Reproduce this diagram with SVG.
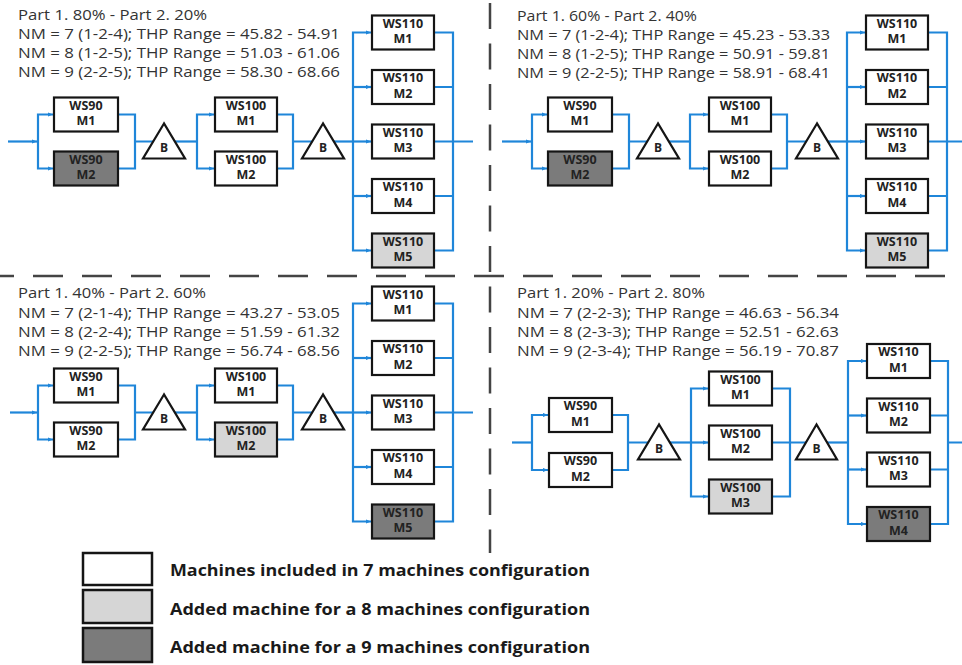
<svg xmlns="http://www.w3.org/2000/svg" width="962" height="665" viewBox="0 0 962 665">
<defs>
<style>
.wire{stroke:#1f86d9;stroke-width:2.2;fill:none}
.box{stroke:#151515;stroke-width:2.2}
.w{fill:#ffffff}.l{fill:#d6d6d6}.d{fill:#7b7b7b}
.lbl{font-family:"Open Sans","Liberation Sans",sans-serif;font-weight:bold;font-size:12.5px;text-anchor:middle;fill:#222;transform:translateY(1px)}
.tri{fill:#fff;stroke:#151515;stroke-width:2.2}
.b{font-family:"Open Sans","Liberation Sans",sans-serif;font-weight:bold;font-size:12px;text-anchor:middle;fill:#222}
.info{font-family:"Open Sans","Liberation Sans",sans-serif;font-size:14px;fill:#333}
.sep{stroke:#444;stroke-width:2.5;fill:none}
.leg{font-family:"Open Sans","Liberation Sans",sans-serif;font-weight:bold;font-size:16px;fill:#1a1a1a}
.lgb{stroke:#151515;stroke-width:2.5}
</style>
<marker id="ah" viewBox="0 0 6 6" refX="6" refY="3" markerWidth="5" markerHeight="5" markerUnits="userSpaceOnUse" orient="auto-start-reverse">
<path d="M0,0.5 L6,3 L0,5.5 z" fill="#1f86d9"/>
</marker>
</defs>

<g id="separators">
<line class="sep" x1="-16" y1="276" x2="962" y2="276" stroke-dasharray="30 19"/>
<line class="sep" x1="490" y1="3" x2="490" y2="553" stroke-dasharray="26 14.5"/>
</g>

<g id="texts">
<text class="info" x="18" y="19.5" textLength="189" lengthAdjust="spacingAndGlyphs">Part 1. 80% - Part 2. 20%</text>
<text class="info" x="18" y="38.5" textLength="322" lengthAdjust="spacingAndGlyphs">NM = 7 (1-2-4); THP Range = 45.82 - 54.91</text>
<text class="info" x="18" y="57.5" textLength="322" lengthAdjust="spacingAndGlyphs">NM = 8 (1-2-5); THP Range = 51.03 - 61.06</text>
<text class="info" x="18" y="76.5" textLength="322" lengthAdjust="spacingAndGlyphs">NM = 9 (2-2-5); THP Range = 58.30 - 68.66</text>

<text class="info" x="517" y="20.5" textLength="180" lengthAdjust="spacingAndGlyphs">Part 1. 60% - Part 2. 40%</text>
<text class="info" x="517" y="39.5" textLength="313" lengthAdjust="spacingAndGlyphs">NM = 7 (1-2-4); THP Range = 45.23 - 53.33</text>
<text class="info" x="517" y="59" textLength="313" lengthAdjust="spacingAndGlyphs">NM = 8 (1-2-5); THP Range = 50.91 - 59.81</text>
<text class="info" x="517" y="78" textLength="313" lengthAdjust="spacingAndGlyphs">NM = 9 (2-2-5); THP Range = 58.91 - 68.41</text>

<text class="info" x="18" y="298" textLength="188" lengthAdjust="spacingAndGlyphs">Part 1. 40% - Part 2. 60%</text>
<text class="info" x="18" y="317.5" textLength="322" lengthAdjust="spacingAndGlyphs">NM = 7 (2-1-4); THP Range = 43.27 - 53.05</text>
<text class="info" x="18" y="336.5" textLength="322" lengthAdjust="spacingAndGlyphs">NM = 8 (2-2-4); THP Range = 51.59 - 61.32</text>
<text class="info" x="18" y="355.5" textLength="322" lengthAdjust="spacingAndGlyphs">NM = 9 (2-2-5); THP Range = 56.74 - 68.56</text>

<text class="info" x="517" y="298" textLength="188" lengthAdjust="spacingAndGlyphs">Part 1. 20% - Part 2. 80%</text>
<text class="info" x="517" y="317.5" textLength="322" lengthAdjust="spacingAndGlyphs">NM = 7 (2-2-3); THP Range = 46.63 - 56.34</text>
<text class="info" x="517" y="336.5" textLength="322" lengthAdjust="spacingAndGlyphs">NM = 8 (2-3-3); THP Range = 52.51 - 62.63</text>
<text class="info" x="517" y="355.5" textLength="322" lengthAdjust="spacingAndGlyphs">NM = 9 (2-3-4); THP Range = 56.19 - 70.87</text>
</g>

<g id="connectors">
<!-- Top-left -->
<path class="wire" d="M8,141.5 H37" marker-end="url(#ah)"/>
<path class="wire" d="M53,114.5 H38 V168.5 H53" marker-start="url(#ah)" marker-end="url(#ah)"/>
<path class="wire" d="M118,114.5 H135 V168.5 H118 M135,141.5 H153"/>
<path class="wire" d="M175,141.5 H197"/>
<path class="wire" d="M214,114.5 H197 V168.5 H214" marker-start="url(#ah)" marker-end="url(#ah)"/>
<path class="wire" d="M277,114.5 H293 V168.5 H277 M293,141.5 H312"/>
<path class="wire" d="M334,141.5 H353"/>
<path class="wire" d="M371,32.5 H353 V250.5 H371" marker-start="url(#ah)" marker-end="url(#ah)"/>
<path class="wire" d="M353,87 H371" marker-end="url(#ah)"/>
<path class="wire" d="M353,141.5 H371" marker-end="url(#ah)"/>
<path class="wire" d="M353,196 H371" marker-end="url(#ah)"/>
<path class="wire" d="M434,32.5 H453 V250.5 H434 M434,87 H453 M434,141.5 H473 M434,196 H453"/>

<!-- Top-right -->
<path class="wire" d="M502,141.5 H531" marker-end="url(#ah)"/>
<path class="wire" d="M547,114.5 H532 V168.5 H547" marker-start="url(#ah)" marker-end="url(#ah)"/>
<path class="wire" d="M612,114.5 H629 V168.5 H612 M629,141.5 H647"/>
<path class="wire" d="M669,141.5 H690"/>
<path class="wire" d="M708,114.5 H690 V168.5 H708" marker-start="url(#ah)" marker-end="url(#ah)"/>
<path class="wire" d="M771,114.5 H787 V168.5 H771 M787,141.5 H806"/>
<path class="wire" d="M828,141.5 H847"/>
<path class="wire" d="M865,32.5 H847 V250.5 H865" marker-start="url(#ah)" marker-end="url(#ah)"/>
<path class="wire" d="M847,87 H865" marker-end="url(#ah)"/>
<path class="wire" d="M847,141.5 H865" marker-end="url(#ah)"/>
<path class="wire" d="M847,196 H865" marker-end="url(#ah)"/>
<path class="wire" d="M928,32.5 H947 V250.5 H928 M928,87 H947 M928,141.5 H962 M928,196 H947"/>

<!-- Bottom-left -->
<path class="wire" d="M10,412.5 H37" marker-end="url(#ah)"/>
<path class="wire" d="M53,385.5 H38 V439.5 H53" marker-start="url(#ah)" marker-end="url(#ah)"/>
<path class="wire" d="M118,385.5 H135 V439.5 H118 M135,412.5 H153"/>
<path class="wire" d="M175,412.5 H197"/>
<path class="wire" d="M214,385.5 H197 V439.5 H214" marker-start="url(#ah)" marker-end="url(#ah)"/>
<path class="wire" d="M277,385.5 H293 V439.5 H277 M293,412.5 H312"/>
<path class="wire" d="M334,412.5 H353"/>
<path class="wire" d="M371,303.5 H353 V521.5 H371" marker-start="url(#ah)" marker-end="url(#ah)"/>
<path class="wire" d="M353,358 H371" marker-end="url(#ah)"/>
<path class="wire" d="M353,412.5 H371" marker-end="url(#ah)"/>
<path class="wire" d="M353,467 H371" marker-end="url(#ah)"/>
<path class="wire" d="M434,303.5 H453 V521.5 H434 M434,358 H453 M434,412.5 H473 M434,467 H453"/>

<!-- Bottom-right -->
<path class="wire" d="M512,442.5 H532"/>
<path class="wire" d="M548,415 H532 V470 H548" marker-start="url(#ah)" marker-end="url(#ah)"/>
<path class="wire" d="M612,415 H628 V470 H612 M628,442.5 H648"/>
<path class="wire" d="M670,442.5 H691"/>
<path class="wire" d="M708,388.5 H691 V496.5 H708" marker-start="url(#ah)" marker-end="url(#ah)"/>
<path class="wire" d="M691,442.5 H708" marker-end="url(#ah)"/>
<path class="wire" d="M772,388.5 H790 V496.5 H772 M772,442.5 H806"/>
<path class="wire" d="M827,442.5 H848"/>
<path class="wire" d="M866,361 H848 V524 H866" marker-start="url(#ah)" marker-end="url(#ah)"/>
<path class="wire" d="M848,415.5 H866" marker-end="url(#ah)"/>
<path class="wire" d="M848,469.5 H866" marker-end="url(#ah)"/>
<path class="wire" d="M930,361 H948 V524 H930 M930,415.5 H948 M930,469.5 H948 M948,442.5 H962"/>
</g>

<!-- Top-left nodes -->
<g id="tl-ws90-m1"><rect class="box w" x="54" y="97.5" width="64" height="34"/><text class="lbl" x="86" y="108.5">WS90</text><text class="lbl" x="86" y="124">M1</text></g>
<g id="tl-ws90-m2"><rect class="box d" x="54" y="151.5" width="64" height="34"/><text class="lbl" x="86" y="162.5">WS90</text><text class="lbl" x="86" y="178">M2</text></g>
<g id="tl-b1"><polygon class="tri" points="164,123.5 143,158.5 185,158.5"/><text class="b" x="164" y="152">B</text></g>
<g id="tl-ws100-m1"><rect class="box w" x="215" y="97.5" width="62" height="34"/><text class="lbl" x="246" y="108.5">WS100</text><text class="lbl" x="246" y="124">M1</text></g>
<g id="tl-ws100-m2"><rect class="box w" x="215" y="151.5" width="62" height="34"/><text class="lbl" x="246" y="162.5">WS100</text><text class="lbl" x="246" y="178">M2</text></g>
<g id="tl-b2"><polygon class="tri" points="323,123.5 302,158.5 344,158.5"/><text class="b" x="323" y="152">B</text></g>
<g id="tl-ws110-m1"><rect class="box w" x="372" y="15.5" width="62" height="34"/><text class="lbl" x="403" y="26.5">WS110</text><text class="lbl" x="403" y="42">M1</text></g>
<g id="tl-ws110-m2"><rect class="box w" x="372" y="70" width="62" height="34"/><text class="lbl" x="403" y="81">WS110</text><text class="lbl" x="403" y="96.5">M2</text></g>
<g id="tl-ws110-m3"><rect class="box w" x="372" y="124.5" width="62" height="34"/><text class="lbl" x="403" y="135.5">WS110</text><text class="lbl" x="403" y="151">M3</text></g>
<g id="tl-ws110-m4"><rect class="box w" x="372" y="179" width="62" height="34"/><text class="lbl" x="403" y="190">WS110</text><text class="lbl" x="403" y="205.5">M4</text></g>
<g id="tl-ws110-m5"><rect class="box l" x="372" y="233.5" width="62" height="34"/><text class="lbl" x="403" y="244.5">WS110</text><text class="lbl" x="403" y="260">M5</text></g>

<!-- Top-right nodes -->
<g id="tr-ws90-m1"><rect class="box w" x="548" y="97.5" width="64" height="34"/><text class="lbl" x="580" y="108.5">WS90</text><text class="lbl" x="580" y="124">M1</text></g>
<g id="tr-ws90-m2"><rect class="box d" x="548" y="151.5" width="64" height="34"/><text class="lbl" x="580" y="162.5">WS90</text><text class="lbl" x="580" y="178">M2</text></g>
<g id="tr-b1"><polygon class="tri" points="658,123.5 637,158.5 679,158.5"/><text class="b" x="658" y="152">B</text></g>
<g id="tr-ws100-m1"><rect class="box w" x="709" y="97.5" width="62" height="34"/><text class="lbl" x="740" y="108.5">WS100</text><text class="lbl" x="740" y="124">M1</text></g>
<g id="tr-ws100-m2"><rect class="box w" x="709" y="151.5" width="62" height="34"/><text class="lbl" x="740" y="162.5">WS100</text><text class="lbl" x="740" y="178">M2</text></g>
<g id="tr-b2"><polygon class="tri" points="817,123.5 796,158.5 838,158.5"/><text class="b" x="817" y="152">B</text></g>
<g id="tr-ws110-m1"><rect class="box w" x="866" y="15.5" width="62" height="34"/><text class="lbl" x="897" y="26.5">WS110</text><text class="lbl" x="897" y="42">M1</text></g>
<g id="tr-ws110-m2"><rect class="box w" x="866" y="70" width="62" height="34"/><text class="lbl" x="897" y="81">WS110</text><text class="lbl" x="897" y="96.5">M2</text></g>
<g id="tr-ws110-m3"><rect class="box w" x="866" y="124.5" width="62" height="34"/><text class="lbl" x="897" y="135.5">WS110</text><text class="lbl" x="897" y="151">M3</text></g>
<g id="tr-ws110-m4"><rect class="box w" x="866" y="179" width="62" height="34"/><text class="lbl" x="897" y="190">WS110</text><text class="lbl" x="897" y="205.5">M4</text></g>
<g id="tr-ws110-m5"><rect class="box l" x="866" y="233.5" width="62" height="34"/><text class="lbl" x="897" y="244.5">WS110</text><text class="lbl" x="897" y="260">M5</text></g>

<!-- Bottom-left nodes -->
<g id="bl-ws90-m1"><rect class="box w" x="54" y="368.5" width="64" height="34"/><text class="lbl" x="86" y="379.5">WS90</text><text class="lbl" x="86" y="395">M1</text></g>
<g id="bl-ws90-m2"><rect class="box w" x="54" y="422.5" width="64" height="34"/><text class="lbl" x="86" y="433.5">WS90</text><text class="lbl" x="86" y="449">M2</text></g>
<g id="bl-b1"><polygon class="tri" points="164,394.5 143,429.5 185,429.5"/><text class="b" x="164" y="423">B</text></g>
<g id="bl-ws100-m1"><rect class="box w" x="215" y="368.5" width="62" height="34"/><text class="lbl" x="246" y="379.5">WS100</text><text class="lbl" x="246" y="395">M1</text></g>
<g id="bl-ws100-m2"><rect class="box l" x="215" y="422.5" width="62" height="34"/><text class="lbl" x="246" y="433.5">WS100</text><text class="lbl" x="246" y="449">M2</text></g>
<g id="bl-b2"><polygon class="tri" points="323,394.5 302,429.5 344,429.5"/><text class="b" x="323" y="423">B</text></g>
<g id="bl-ws110-m1"><rect class="box w" x="372" y="286.5" width="62" height="34"/><text class="lbl" x="403" y="297.5">WS110</text><text class="lbl" x="403" y="313">M1</text></g>
<g id="bl-ws110-m2"><rect class="box w" x="372" y="341" width="62" height="34"/><text class="lbl" x="403" y="352">WS110</text><text class="lbl" x="403" y="367.5">M2</text></g>
<g id="bl-ws110-m3"><rect class="box w" x="372" y="395.5" width="62" height="34"/><text class="lbl" x="403" y="406.5">WS110</text><text class="lbl" x="403" y="422">M3</text></g>
<g id="bl-ws110-m4"><rect class="box w" x="372" y="450" width="62" height="34"/><text class="lbl" x="403" y="461">WS110</text><text class="lbl" x="403" y="476.5">M4</text></g>
<g id="bl-ws110-m5"><rect class="box d" x="372" y="504.5" width="62" height="34"/><text class="lbl" x="403" y="515.5">WS110</text><text class="lbl" x="403" y="531">M5</text></g>

<!-- Bottom-right nodes -->
<g id="br-ws90-m1"><rect class="box w" x="549" y="398" width="63" height="34"/><text class="lbl" x="580.5" y="409">WS90</text><text class="lbl" x="580.5" y="424.5">M1</text></g>
<g id="br-ws90-m2"><rect class="box w" x="549" y="453" width="63" height="34"/><text class="lbl" x="580.5" y="464">WS90</text><text class="lbl" x="580.5" y="479.5">M2</text></g>
<g id="br-b1"><polygon class="tri" points="659,424.5 638,459.5 680,459.5"/><text class="b" x="659" y="453">B</text></g>
<g id="br-ws100-m1"><rect class="box w" x="709" y="371.5" width="63" height="34"/><text class="lbl" x="740.5" y="382.5">WS100</text><text class="lbl" x="740.5" y="398">M1</text></g>
<g id="br-ws100-m2"><rect class="box w" x="709" y="425.5" width="63" height="34"/><text class="lbl" x="740.5" y="436.5">WS100</text><text class="lbl" x="740.5" y="452">M2</text></g>
<g id="br-ws100-m3"><rect class="box l" x="709" y="479.5" width="63" height="34"/><text class="lbl" x="740.5" y="490.5">WS100</text><text class="lbl" x="740.5" y="506">M3</text></g>
<g id="br-b2"><polygon class="tri" points="816.5,424.5 796,459.5 837,459.5"/><text class="b" x="816.5" y="453">B</text></g>
<g id="br-ws110-m1"><rect class="box w" x="867" y="344" width="63" height="34"/><text class="lbl" x="898.5" y="355">WS110</text><text class="lbl" x="898.5" y="370.5">M1</text></g>
<g id="br-ws110-m2"><rect class="box w" x="867" y="398.5" width="63" height="34"/><text class="lbl" x="898.5" y="409.5">WS110</text><text class="lbl" x="898.5" y="425">M2</text></g>
<g id="br-ws110-m3"><rect class="box w" x="867" y="452.5" width="63" height="34"/><text class="lbl" x="898.5" y="463.5">WS110</text><text class="lbl" x="898.5" y="479">M3</text></g>
<g id="br-ws110-m4"><rect class="box d" x="867" y="507" width="63" height="34"/><text class="lbl" x="898.5" y="518">WS110</text><text class="lbl" x="898.5" y="533.5">M4</text></g>

<!-- Legend -->
<g id="legend">
<rect class="lgb w" x="83" y="553" width="69" height="32"/>
<rect class="lgb l" x="83" y="590" width="69" height="33"/>
<rect class="lgb d" x="83" y="628" width="69" height="34"/>
<text class="leg" x="170" y="576" textLength="420" lengthAdjust="spacingAndGlyphs">Machines included in 7 machines configuration</text>
<text class="leg" x="170" y="615" textLength="420" lengthAdjust="spacingAndGlyphs">Added machine for a 8 machines configuration</text>
<text class="leg" x="170" y="653" textLength="420" lengthAdjust="spacingAndGlyphs">Added machine for a 9 machines configuration</text>
</g>
</svg>
